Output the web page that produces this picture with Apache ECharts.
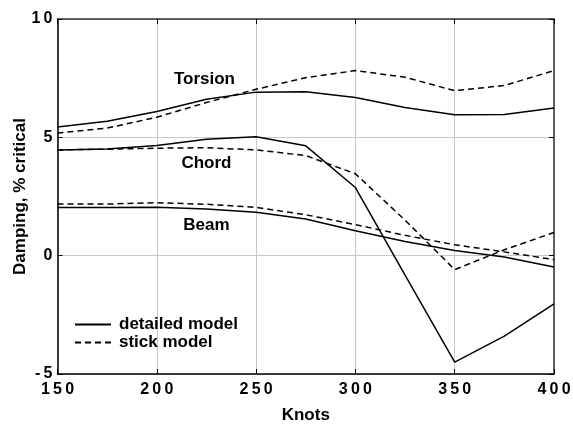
<!DOCTYPE html>
<html><head><meta charset="utf-8">
<script src="https://cdn.jsdelivr.net/npm/echarts@6/dist/echarts.min.js"></script>
<style>html,body{margin:0;padding:0;background:#fff}#c{width:573px;height:425px}</style>
</head><body><div id="c"></div>
<script>
const knots = [150,175,200,225,250,275,300,325,350,375,400];
const torsionDetailed = [5.44,5.68,6.09,6.61,6.91,6.93,6.68,6.26,5.95,5.96,6.24];
const torsionStick    = [5.18,5.39,5.85,6.47,7.03,7.52,7.82,7.54,6.97,7.19,7.82];
const chordDetailed   = [4.47,4.51,4.65,4.92,5.02,4.64,2.88,-0.82,-4.50,-3.40,-2.04];
const chordStick      = [4.47,4.50,4.54,4.56,4.47,4.23,3.46,1.50,-0.59,0.25,0.98];
const beamDetailed    = [2.03,2.03,2.05,1.97,1.83,1.55,1.05,0.60,0.22,-0.06,-0.48];
const beamStick       = [2.18,2.18,2.24,2.17,2.04,1.73,1.31,0.86,0.46,0.16,-0.17];
const modeLabels = ['Torsion','Chord','Beam'];
const modeLabelAt = [[224,7.47],[225,3.92],[225,1.27]];
const xTicks = [150,200,250,300,350,400];
const yTicks = [-5,0,5,10];

const FONT = '"Liberation Sans", Arial, sans-serif';
const spaced = v => String(v).split('').join('\u2009');
const pairs = arr => knots.map((k,i)=>[k,arr[i]]);

function mk(name, data, dashed){
  return {name, type:'line', data:pairs(data), symbol:'none', smooth:false,
    lineStyle:{color:'#000', width:1.5, type: dashed ? [6,4] : 'solid'},
    itemStyle:{color:'#000'}, z:3, silent:true};
}
const series = [
  mk('detailed model', torsionDetailed, false),
  mk('stick model', torsionStick, true),
  mk('detailed model', chordDetailed, false),
  mk('stick model', chordStick, true),
  mk('detailed model', beamDetailed, false),
  mk('stick model', beamStick, true),
  {type:'scatter', data: modeLabels.map((t,i)=>({value:modeLabelAt[i], name:t})),
   symbolSize:1, silent:true, itemStyle:{color:'#fff', opacity:0},
   label:{show:true, position:'inside', formatter:p=>p.name, color:'#000', opacity:1,
     textBorderWidth:0, textBorderColor:'transparent', fontFamily:FONT, fontWeight:'bold', fontSize:17}}
];

const chart = echarts.init(document.getElementById('c'), null, {renderer:'canvas'});
chart.setOption({
  animation:false,
  backgroundColor:'#fff',
  grid:{left:57.5, right:19, top:19, bottom:51, containLabel:false, outerBoundsMode:'none'},
  legend:{data:['detailed model','stick model'], orient:'vertical', left:69, top:311,
    itemWidth:36, itemHeight:14, itemGap:1,
    itemStyle:{color:'transparent', borderWidth:0, opacity:0},
    textStyle:{fontFamily:FONT, fontWeight:'bold', fontSize:17, color:'#000', padding:[0,0,0,3]}},
  xAxis:[{type:'value', min:150, max:400, interval:50, position:'bottom',
    name:'Knots', nameLocation:'middle', nameGap:33, nameMoveOverlap:false,
    nameTextStyle:{fontFamily:FONT, fontWeight:'bold', fontSize:17, color:'#000'},
    axisLine:{onZero:false, lineStyle:{color:'#000', width:1.5}},
    axisTick:{inside:true, length:5, lineStyle:{color:'#000'}},
    axisLabel:{formatter:spaced, margin:8, fontFamily:FONT, fontWeight:'bold', fontSize:16, color:'#000'},
    splitLine:{show:true, lineStyle:{color:'#c8c8c8', width:1}}},
   {type:'value', min:150, max:400, interval:50, position:'top',
    axisLine:{show:true, onZero:false, lineStyle:{color:'#333', width:1.5}},
    axisTick:{inside:true, length:5, lineStyle:{color:'#000'}},
    axisLabel:{show:false}, splitLine:{show:false}}],
  yAxis:[{type:'value', min:-5, max:10, interval:5, position:'left',
    name:'Damping, % critical', nameLocation:'middle', nameGap:29, nameRotate:90, nameMoveOverlap:false,
    nameTextStyle:{fontFamily:FONT, fontWeight:'bold', fontSize:17, color:'#000'},
    axisLine:{show:true, onZero:false, lineStyle:{color:'#000', width:1.5}},
    axisTick:{inside:true, length:5, lineStyle:{color:'#000'}},
    axisLabel:{formatter:spaced, margin:5, fontFamily:FONT, fontWeight:'bold', fontSize:16, color:'#000'},
    splitLine:{show:true, lineStyle:{color:'#c8c8c8', width:1}}},
   {type:'value', min:-5, max:10, interval:5, position:'right',
    axisLine:{show:true, onZero:false, lineStyle:{color:'#333', width:1.5}},
    axisTick:{inside:true, length:5, lineStyle:{color:'#000'}},
    axisLabel:{show:false}, splitLine:{show:false}}],
  series
});
</script></body></html>
